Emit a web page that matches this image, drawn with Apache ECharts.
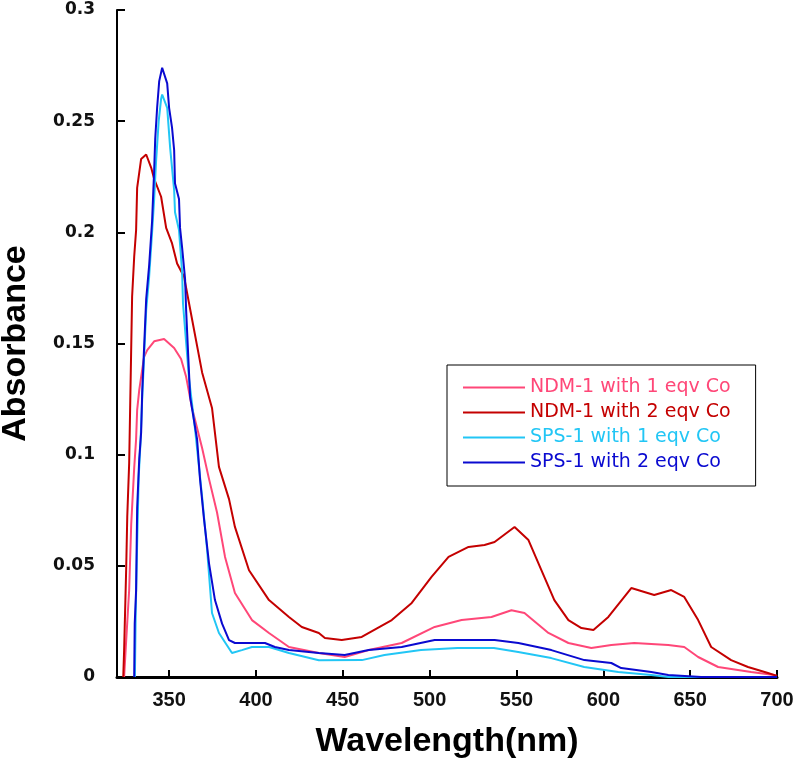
<!DOCTYPE html>
<html>
<head>
<meta charset="utf-8">
<title>Absorbance spectra</title>
<script src="https://cdn.jsdelivr.net/npm/echarts@6/dist/echarts.min.js"></script>
<style>
	html, body { margin: 0; padding: 0; background: #fff; }
	#chart { width: 800px; height: 771px; }
</style>
</head>
<body>
<div id="chart"></div>
<script>
// legend names
const seriesNames = [
	'NDM-1 with 1 eqv Co',
	'NDM-1 with 2 eqv Co',
	'SPS-1 with 1 eqv Co',
	'SPS-1 with 2 eqv Co',
]
// x ticks shown (nm)
const xTicks = [350, 400, 450, 500, 550, 600, 650, 700]

// [wavelength nm, absorbance]
const ndm1Eq1 = [
	[324.1, 0], [325.3, 0.0166], [327.0, 0.039], [328.2, 0.069], [329.9, 0.094],
	[331.0, 0.107], [331.6, 0.12], [332.8, 0.129], [333.9, 0.135], [335.6, 0.144],
	[337.4, 0.147], [341.4, 0.151], [347.1, 0.152], [352.9, 0.148], [356.9, 0.143],
	[359.8, 0.135], [363.2, 0.121], [369.0, 0.103], [373.0, 0.089], [377.6, 0.074],
	[382.2, 0.054], [387.9, 0.0378], [397.7, 0.0256], [407.5, 0.0198], [419.0, 0.0135],
	[436.2, 0.0108], [451.1, 0.009], [464.9, 0.0121], [483.9, 0.0153], [502.9, 0.0225],
	[518.4, 0.0256], [535.6, 0.027], [547.1, 0.03], [554.6, 0.0288], [568.4, 0.0198],
	[579.9, 0.0153], [593.1, 0.013], [604.6, 0.0144], [617.8, 0.0153], [637.4, 0.0144],
	[646.6, 0.0135], [654.6, 0.009], [666.1, 0.0045], [685.1, 0.0022], [698.3, 0.0009],
	[700, 0.0005],
]
const ndm1Eq2 = [
	[323.6, 0], [324.1, 0.012], [325.3, 0.049], [325.9, 0.072], [327.0, 0.096],
	[328.7, 0.171], [329.9, 0.189], [331.0, 0.201], [331.6, 0.22], [333.9, 0.233],
	[336.8, 0.235], [339.7, 0.229], [341.4, 0.224], [345.4, 0.216], [348.3, 0.202],
	[351.7, 0.195], [354.6, 0.186], [358.6, 0.18], [361.5, 0.168], [369.0, 0.137],
	[374.7, 0.121], [378.7, 0.0945], [384.5, 0.08], [387.9, 0.0675], [396.0, 0.048],
	[407.5, 0.0346], [419.0, 0.027], [426.4, 0.0225], [436.2, 0.0198], [439.7, 0.0175],
	[449.4, 0.0166], [460.9, 0.018], [478.2, 0.0256], [489.7, 0.0333], [501.1, 0.045],
	[510.9, 0.054], [522.4, 0.0585], [531.6, 0.0594], [537.4, 0.0607], [548.9, 0.0675],
	[556.9, 0.0616], [564.4, 0.048], [571.8, 0.0346], [579.9, 0.0256], [587.4, 0.022],
	[594.3, 0.0211], [602.9, 0.027], [616.1, 0.04], [629.3, 0.0369], [639.1, 0.0391],
	[646.6, 0.036], [654.6, 0.0256], [662.1, 0.0135], [673.6, 0.0076], [683.3, 0.0045],
	[694.8, 0.0018], [700, 0.0005],
]
const sps1Eq1 = [
	[330.3, 0], [330.8, 0.03], [331.6, 0.06], [332.5, 0.09], [333.5, 0.105],
	[334.5, 0.125], [336.8, 0.165], [338.5, 0.18], [340.2, 0.2], [341.4, 0.215],
	[342.5, 0.232], [344.0, 0.25], [345.4, 0.26], [346.0, 0.262], [348.9, 0.256],
	[350.6, 0.238], [352.9, 0.219], [353.4, 0.209], [355.7, 0.201], [357.5, 0.182],
	[358.0, 0.168], [361.5, 0.134], [365.0, 0.111], [369.0, 0.081], [371.8, 0.058],
	[374.7, 0.0288], [378.7, 0.0198], [386.2, 0.0108], [391.9, 0.0121], [397.7, 0.0135],
	[407.5, 0.0135], [419.0, 0.0108], [436.2, 0.0075], [461.0, 0.0076], [474.0, 0.0099],
	[495.0, 0.0121], [516.0, 0.013], [537.0, 0.013], [551.0, 0.0112], [570.0, 0.0085],
	[589.0, 0.0045], [608.6, 0.0022], [627.6, 0.0009], [637.4, 0], [700, 0],
]
const sps1Eq2 = [
	[329.9, 0], [330.2, 0.024], [331.0, 0.039], [331.6, 0.076], [332.8, 0.098],
	[333.9, 0.11], [334.5, 0.128], [336.8, 0.17], [338.5, 0.185], [340.2, 0.205],
	[341.4, 0.228], [342.0, 0.242], [343.1, 0.256], [344.3, 0.268], [346.0, 0.274],
	[348.9, 0.267], [350.0, 0.256], [351.7, 0.247], [352.9, 0.237], [353.4, 0.222],
	[355.7, 0.215], [356.3, 0.202], [357.5, 0.193], [359.2, 0.179], [359.8, 0.165],
	[362.1, 0.126], [366.1, 0.107], [367.8, 0.089], [370.1, 0.071], [373.0, 0.051],
	[376.4, 0.0346], [380.5, 0.024], [384.5, 0.0166], [387.9, 0.0153], [405.2, 0.0153],
	[410.9, 0.0135], [419.0, 0.0121], [436.2, 0.0108], [451.1, 0.0099], [464.9, 0.0121],
	[483.9, 0.0135], [502.9, 0.0166], [537.4, 0.0166], [551.1, 0.0153], [570.1, 0.0121],
	[589.1, 0.0076], [604.6, 0.0063], [610.3, 0.004], [627.6, 0.0022], [637.4, 0.0009],
	[656.3, 0], [700, 0],
]

const seriesData = [ndm1Eq1, ndm1Eq2, sps1Eq1, sps1Eq2]
const seriesColors = ['#ff4778', '#c40000', '#22c6f5', '#0a0ad0']

const chart = echarts.init(document.getElementById('chart'))

chart.setOption({
	animation: false,
	backgroundColor: '#fff',
	color: seriesColors,
	grid: { left: 117, right: 23, top: 10, bottom: 94, outerBoundsMode: 'none' },
	legend: {
		orient: 'vertical',
		left: 447,
		top: 365,
		icon: 'rect',
		itemWidth: 62,
		itemHeight: 2,
		itemGap: 6,
		padding: [13, 25, 14, 16],
		borderColor: '#000',
		borderWidth: 1,
		backgroundColor: '#fff',
		textStyle: { fontFamily: 'DejaVu Sans', fontSize: 19 },
		data: seriesNames.map((name, i) => ({
			name,
			textStyle: { color: seriesColors[i] },
		})),
	},
	xAxis: {
		type: 'value',
		min: 320,
		max: 700,
		name: 'Wavelength(nm)',
		nameLocation: 'middle',
		nameGap: 48,
		nameTextStyle: {
			color: '#000',
			fontFamily: 'Liberation Sans',
			fontWeight: 'bold',
			fontSize: 34,
		},
		axisLine: { lineStyle: { color: '#000', width: 3 } },
		axisTick: {
			inside: true,
			length: 7,
			customValues: xTicks,
			lineStyle: { color: '#000', width: 2 },
		},
		axisLabel: {
			customValues: xTicks,
			margin: 13,
			color: '#111',
			fontFamily: 'Liberation Sans Narrow, Liberation Sans',
			fontWeight: 'bold',
			fontSize: 20,
		},
		splitLine: { show: false },
	},
	yAxis: {
		type: 'value',
		min: 0,
		max: 0.3,
		interval: 0.05,
		name: 'Absorbance',
		nameLocation: 'middle',
		nameGap: 84,
		nameTextStyle: {
			color: '#000',
			fontFamily: 'Liberation Sans',
			fontWeight: 'bold',
			fontSize: 34,
		},
		axisLine: { show: true, lineStyle: { color: '#000', width: 2 } },
		axisTick: { show: true, inside: true, length: 8, lineStyle: { color: '#000', width: 2 } },
		axisLabel: {
			margin: 22,
			color: '#111',
			fontFamily: 'DejaVu Sans',
			fontWeight: 'bold',
			fontSize: 17,
		},
		splitLine: { show: false },
	},
	series: seriesData.map((data, i) => ({
		name: seriesNames[i],
		type: 'line',
		data,
		symbol: 'none',
		lineStyle: { width: 2 },
	})),
})
</script>
</body>
</html>
